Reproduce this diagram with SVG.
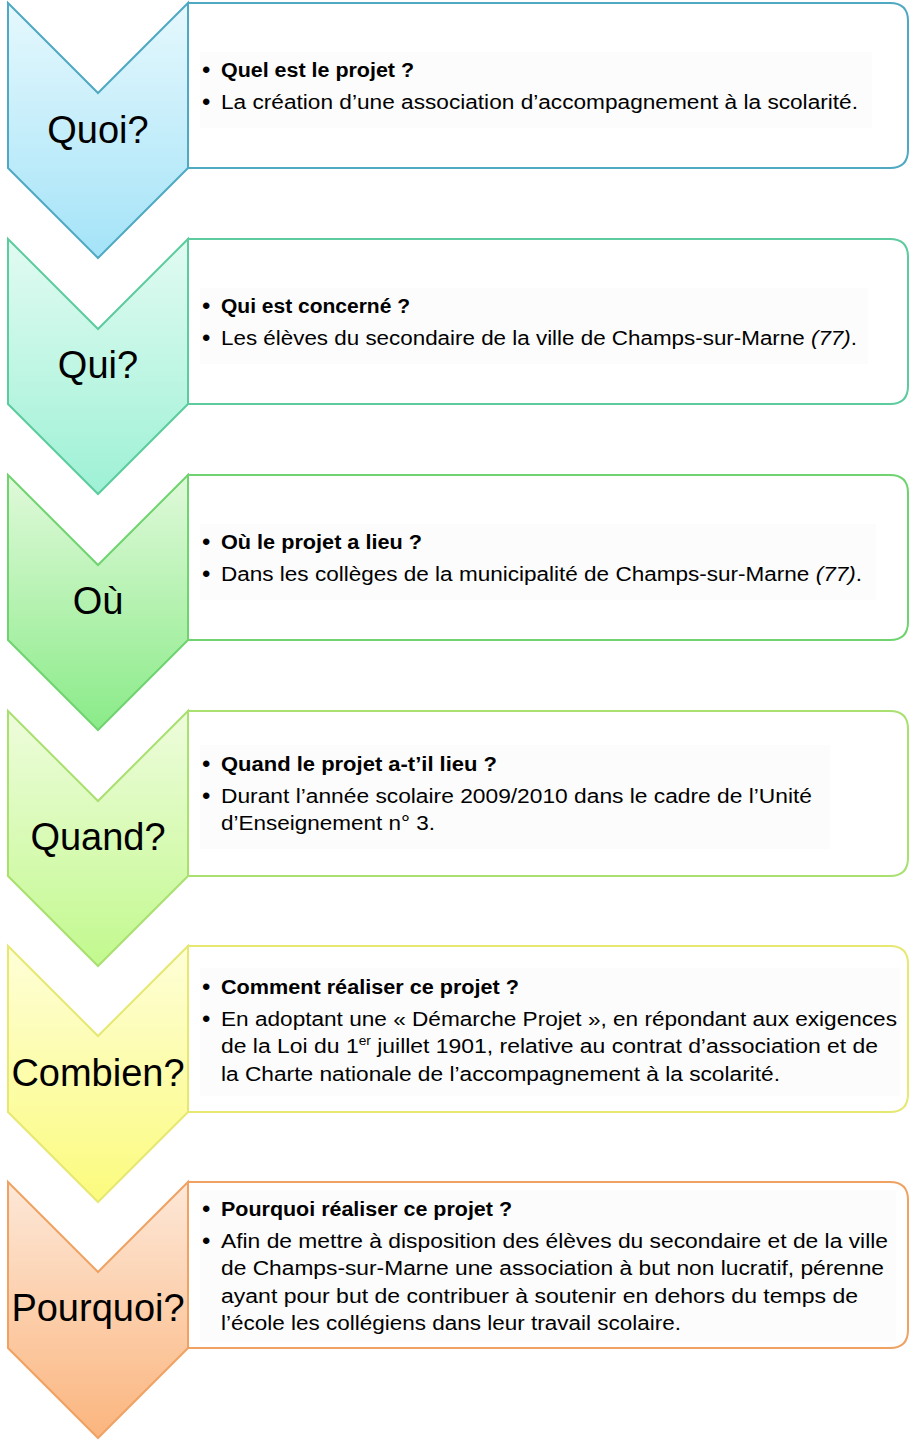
<svg xmlns="http://www.w3.org/2000/svg" width="911" height="1446" viewBox="0 0 911 1446">
<defs>
<linearGradient id="g1" x1="0" y1="0" x2="0" y2="1"><stop offset="0" stop-color="#e6f8fd"/><stop offset="1" stop-color="#a4e3f8"/></linearGradient>
<linearGradient id="g2" x1="0" y1="0" x2="0" y2="1"><stop offset="0" stop-color="#e2fbf2"/><stop offset="1" stop-color="#9ef1d6"/></linearGradient>
<linearGradient id="g3" x1="0" y1="0" x2="0" y2="1"><stop offset="0" stop-color="#e0f9da"/><stop offset="1" stop-color="#8aeb88"/></linearGradient>
<linearGradient id="g4" x1="0" y1="0" x2="0" y2="1"><stop offset="0" stop-color="#eefcdc"/><stop offset="1" stop-color="#c2f98e"/></linearGradient>
<linearGradient id="g5" x1="0" y1="0" x2="0" y2="1"><stop offset="0" stop-color="#fefed8"/><stop offset="1" stop-color="#fbfb7e"/></linearGradient>
<linearGradient id="g6" x1="0" y1="0" x2="0" y2="1"><stop offset="0" stop-color="#fde8d8"/><stop offset="1" stop-color="#fbb57e"/></linearGradient>
</defs>
<style>
.box{fill:#ffffff;stroke-width:2}
.chev{stroke-width:2;stroke-linejoin:miter}
.lbl{font-family:"Liberation Sans",Arial,sans-serif;font-size:38px;fill:#000;text-anchor:middle}
.t{font-family:"Liberation Sans",Arial,sans-serif;font-size:20px;fill:#000}
.b{font-weight:bold}
.bul{font-family:"Liberation Sans",Arial,sans-serif;font-size:24px;fill:#000}
.glow{fill:#f5f5f5;opacity:0.3}
</style>
<rect width="911" height="1446" fill="#ffffff"/>

<g id="node-quoi">
<path class="box" stroke="#4fa9c2" d="M188,3 H890 Q908,3 908,21 V150 Q908,168 890,168 H188 Z"/>
<rect class="glow" x="200" y="52" width="672" height="76"/>
<path class="chev" fill="url(#g1)" stroke="#4fa9c2" d="M8,3 L98,93 L188,3 L188,168 L98,258 L8,168 Z"/>
<text class="lbl" x="98" y="143">Quoi?</text>
<text class="bul" x="202" y="78">•</text>
<text class="t b" x="221" y="77" textLength="193" lengthAdjust="spacingAndGlyphs">Quel est le projet ?</text>
<text class="bul" x="202" y="110">•</text>
<text class="t" x="221" y="109" textLength="637" lengthAdjust="spacingAndGlyphs">La création d’une association d’accompagnement à la scolarité.</text>
</g>

<g id="node-qui">
<path class="box" stroke="#5ccb9e" d="M188,239 H890 Q908,239 908,257 V386 Q908,404 890,404 H188 Z"/>
<rect class="glow" x="200" y="288" width="668" height="76"/>
<path class="chev" fill="url(#g2)" stroke="#5ccb9e" d="M8,239 L98,329 L188,239 L188,404 L98,494 L8,404 Z"/>
<text class="lbl" x="98" y="378">Qui?</text>
<text class="bul" x="202" y="314">•</text>
<text class="t b" x="221" y="313" textLength="189" lengthAdjust="spacingAndGlyphs">Qui est concerné ?</text>
<text class="bul" x="202" y="346">•</text>
<text class="t" x="221" y="345" textLength="636" lengthAdjust="spacingAndGlyphs">Les élèves du secondaire de la ville de Champs-sur-Marne <tspan font-style="italic">(77)</tspan>.</text>
</g>

<g id="node-ou">
<path class="box" stroke="#6fd46f" d="M188,475 H890 Q908,475 908,493 V622 Q908,640 890,640 H188 Z"/>
<rect class="glow" x="200" y="524" width="676" height="76"/>
<path class="chev" fill="url(#g3)" stroke="#6fd46f" d="M8,475 L98,565 L188,475 L188,640 L98,730 L8,640 Z"/>
<text class="lbl" x="98" y="614">Où</text>
<text class="bul" x="202" y="550">•</text>
<text class="t b" x="221" y="549" textLength="201" lengthAdjust="spacingAndGlyphs">Où le projet a lieu ?</text>
<text class="bul" x="202" y="582">•</text>
<text class="t" x="221" y="581" textLength="641" lengthAdjust="spacingAndGlyphs">Dans les collèges de la municipalité de Champs-sur-Marne <tspan font-style="italic">(77)</tspan>.</text>
</g>

<g id="node-quand">
<path class="box" stroke="#a9e070" d="M188,711 H890 Q908,711 908,729 V858 Q908,876 890,876 H188 Z"/>
<rect class="glow" x="200" y="745" width="630" height="104"/>
<path class="chev" fill="url(#g4)" stroke="#a9e070" d="M8,711 L98,801 L188,711 L188,876 L98,966 L8,876 Z"/>
<text class="lbl" x="98" y="850">Quand?</text>
<text class="bul" x="202" y="772">•</text>
<text class="t b" x="221" y="771" textLength="276" lengthAdjust="spacingAndGlyphs">Quand le projet a-t’il lieu ?</text>
<text class="bul" x="202" y="804">•</text>
<text class="t" x="221" y="803" textLength="591" lengthAdjust="spacingAndGlyphs">Durant l’année scolaire 2009/2010 dans le cadre de l’Unité</text>
<text class="t" x="221" y="830" textLength="214" lengthAdjust="spacingAndGlyphs">d’Enseignement n° 3.</text>
</g>

<g id="node-combien">
<path class="box" stroke="#e6e872" d="M188,946 H890 Q908,946 908,964 V1094 Q908,1112 890,1112 H188 Z"/>
<rect class="glow" x="200" y="968" width="700" height="128"/>
<path class="chev" fill="url(#g5)" stroke="#e6e872" d="M8,946 L98,1036 L188,946 L188,1112 L98,1202 L8,1112 Z"/>
<text class="lbl" x="98" y="1086">Combien?</text>
<text class="bul" x="202" y="995">•</text>
<text class="t b" x="221" y="994" textLength="298" lengthAdjust="spacingAndGlyphs">Comment réaliser ce projet ?</text>
<text class="bul" x="202" y="1027">•</text>
<text class="t" x="221" y="1026" textLength="676" lengthAdjust="spacingAndGlyphs">En adoptant une « Démarche Projet », en répondant aux exigences</text>
<text class="t" x="221" y="1053" textLength="657" lengthAdjust="spacingAndGlyphs">de la Loi du 1<tspan font-size="12" dy="-8">er</tspan><tspan dy="8"> juillet 1901, relative au contrat d’association et de</tspan></text>
<text class="t" x="221" y="1081" textLength="559" lengthAdjust="spacingAndGlyphs">la Charte nationale de l’accompagnement à la scolarité.</text>
</g>

<g id="node-pourquoi">
<path class="box" stroke="#efa262" d="M188,1182 H890 Q908,1182 908,1200 V1330 Q908,1348 890,1348 H188 Z"/>
<rect class="glow" x="200" y="1190" width="696" height="152"/>
<path class="chev" fill="url(#g6)" stroke="#efa262" d="M8,1182 L98,1272 L188,1182 L188,1348 L98,1438 L8,1348 Z"/>
<text class="lbl" x="98" y="1321">Pourquoi?</text>
<text class="bul" x="202" y="1217">•</text>
<text class="t b" x="221" y="1216" textLength="291" lengthAdjust="spacingAndGlyphs">Pourquoi réaliser ce projet ?</text>
<text class="bul" x="202" y="1249">•</text>
<text class="t" x="221" y="1248" textLength="667" lengthAdjust="spacingAndGlyphs">Afin de mettre à disposition des élèves du secondaire et de la ville</text>
<text class="t" x="221" y="1275" textLength="663" lengthAdjust="spacingAndGlyphs">de Champs-sur-Marne une association à but non lucratif, pérenne</text>
<text class="t" x="221" y="1303" textLength="637" lengthAdjust="spacingAndGlyphs">ayant pour but de contribuer à soutenir en dehors du temps de</text>
<text class="t" x="221" y="1330" textLength="460" lengthAdjust="spacingAndGlyphs">l’école les collégiens dans leur travail scolaire.</text>
</g>

<g id="connectors"></g>
</svg>
